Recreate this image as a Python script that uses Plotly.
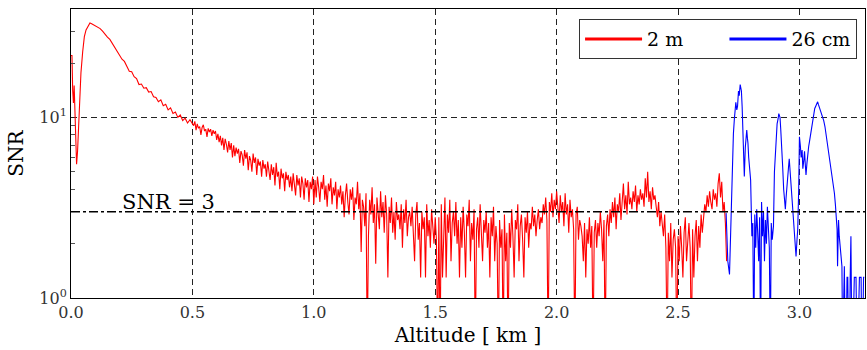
import numpy as np
import plotly.graph_objects as go

# ---------------- data ----------------
red_alt_early = [0.000, 0.004, 0.007, 0.010, 0.013, 0.016, 0.019, 0.023, 0.027, 0.032,
                 0.037, 0.041, 0.048, 0.055, 0.062, 0.069, 0.078, 0.085, 0.092, 0.100]
red_snr_early = [22, 22, 14, 12, 15, 11, 7, 5.5, 6.5, 10,
                 14, 17.7, 23, 28, 30.5, 32, 33.3, 33, 32.6, 32.3]

# 0.11 .. 0.50 km, 0.01 km step
red_snr_mid = [31.8, 31.0, 30.0, 28.8, 27.8, 27.0, 25.6, 24.6, 23.0, 22.2,
               21.0, 20.4, 19.3, 18.0, 17.9, 16.8, 16.4, 15.2, 15.3, 14.5,
               14.6, 13.8, 13.9, 13.0, 12.9, 12.2, 12.5, 11.6, 11.8, 11.0,
               11.3, 10.5, 10.7, 10.0, 10.3, 9.6, 9.9, 9.3, 9.7, 9.2]

# 0.505 .. 2.700 km, 0.005 km step
red_snr_fine = [
    9.0, 9.5, 8.5, 9.2, 8.7, 8.9, 8.0, 8.8, 9.1, 8.4, 8.6, 7.8, 8.7, 8.3, 8.6, 7.9, 8.5, 8.1, 8.4, 7.5,
    8.1, 7.3, 7.9, 7.0, 7.7, 6.6, 7.6, 7.1, 6.4, 7.4, 6.6, 7.2, 6.0, 7.0, 6.1, 6.8, 6.3, 6.7, 5.6, 6.5,
    6.2, 5.4, 6.6, 5.9, 6.4, 5.1, 6.1, 5.8, 5.0, 6.3, 5.6, 6.0, 4.8, 5.9, 5.4, 5.7, 4.7, 5.8, 5.2, 5.5,
    4.7, 5.7, 5.1, 4.5, 5.5, 4.8, 5.3, 4.2, 5.6, 4.7, 5.0, 4.0, 5.2, 4.6, 4.9, 3.9, 5.0, 4.5, 4.8, 4.1,
    4.7, 3.9, 4.9, 4.4, 3.7, 4.8, 4.2, 4.6, 3.6, 4.7, 4.3, 3.5, 4.6, 4.1, 4.5, 3.4, 4.4, 4.0, 4.7, 3.3,
    4.5, 3.6, 4.7, 4.1, 3.4, 4.4, 4.0, 4.8, 3.5, 4.2, 3.2, 4.3, 3.9, 4.6, 3.3, 4.1, 3.7, 4.4, 3.1, 4.0,
    3.6, 4.2, 3.3, 3.9, 2.8, 3.7, 4.3, 3.4, 2.9, 4.0, 3.5, 4.1, 2.7, 3.6, 3.3, 4.4, 3.1, 3.8, 1.8, 3.5,
    3.2, 2.5, 3.8, 0.5, 2.2, 3.5, 2.9, 4.1, 2.6, 3.3, 1.55, 3.6, 3.0, 2.4, 3.9, 2.8, 3.4, 2.3, 3.7, 2.9,
    1.3, 3.2, 2.6, 3.6, 2.3, 3.0, 2.1, 3.4, 2.7, 2.9, 2.4, 3.3, 1.9, 3.1, 2.6, 3.5, 2.2, 2.8, 3.0, 2.5,
    3.2, 2.3, 1.6, 2.9, 3.4, 2.1, 2.6, 1.3, 3.0, 2.4, 2.8, 1.3, 3.3, 2.2, 2.7, 1.9, 3.1, 2.5, 2.0, 2.8,
    2.1, 0.5, 2.8, 0.5, 3.3, 1.3, 2.5, 3.6, 1.3, 2.9, 2.3, 3.5, 1.6, 2.6, 3.0, 2.2, 3.4, 2.0, 2.7, 1.3,
    2.8, 1.9, 3.2, 2.3, 1.3, 2.9, 2.5, 3.5, 1.6, 2.6, 2.1, 3.1, 0.5, 2.4, 2.8, 1.9, 3.3, 2.2, 1.6, 2.7,
    2.3, 3.0, 1.9, 2.6, 1.3, 2.8, 2.2, 3.2, 1.6, 2.5, 2.0, 0.5, 2.7, 1.9, 2.4, 0.5, 2.9, 1.6, 2.3, 0.5,
    2.6, 1.9, 3.1, 2.2, 1.3, 2.7, 2.4, 3.3, 1.6, 2.5, 2.9, 2.1, 1.3, 2.8, 2.3, 3.0, 1.9, 2.6, 2.4, 3.2,
    2.5, 2.9, 2.2, 2.7, 3.1, 2.4, 2.8, 2.6, 3.3, 2.9, 3.6, 2.7, 0.5, 3.4, 3.0, 3.8, 2.8, 3.5, 3.1, 3.9,
    3.3, 2.6, 3.7, 3.0, 3.4, 2.5, 3.8, 2.9, 3.3, 2.3, 3.5, 2.8, 3.1, 2.4, 0.5, 2.9, 3.2, 2.1, 2.7, 2.5,
    2.2, 1.6, 2.6, 1.3, 2.4, 2.0, 2.8, 1.9, 2.5, 0.5, 2.3, 2.7, 1.9, 2.6, 2.2, 3.0, 2.4, 1.6, 2.7, 0.5,
    2.5, 2.9, 2.2, 3.1, 2.6, 3.4, 2.8, 3.6, 2.4, 3.3, 3.0, 3.8, 2.7, 3.5, 4.3, 3.1, 3.7, 2.9, 4.4, 3.3,
    3.6, 3.1, 3.9, 3.4, 4.2, 3.0, 3.7, 3.3, 4.0, 3.5, 3.8, 3.2, 4.6, 3.6, 5.0, 3.4, 3.9, 3.1, 4.1, 3.5,
    3.7, 3.2, 2.8, 3.4, 2.5, 3.0, 2.6, 2.2, 2.9, 1.9, 0.5, 2.3, 1.6, 2.6, 1.3, 2.1, 2.4, 1.9, 0.5, 2.2,
    1.6, 2.5, 1.9, 1.3, 2.3, 2.8, 1.6, 2.1, 2.6, 1.9, 0.5, 2.4, 1.3, 2.2, 2.7, 1.6, 2.5, 1.9, 2.9, 2.3,
    2.8, 3.3, 3.0, 3.7, 3.2, 3.9, 3.4, 3.1, 4.0, 3.5, 3.8, 3.2, 4.3, 4.9, 3.6, 4.4, 3.0, 3.4, 2.6, 1.6,
]

blue_alt = [2.698, 2.705, 2.712, 2.719, 2.723, 2.728, 2.732, 2.736, 2.738, 2.742, 2.745, 2.749,
            2.752, 2.756, 2.759, 2.761, 2.764, 2.766, 2.770, 2.773, 2.777, 2.780, 2.783, 2.786,
            2.788, 2.791, 2.794, 2.799, 2.804, 2.808, 2.812, 2.816, 2.820, 2.824, 2.828, 2.832,
            2.836, 2.840, 2.844, 2.848, 2.852, 2.856, 2.860, 2.864, 2.868, 2.872, 2.876, 2.880,
            2.884, 2.888, 2.893, 2.897, 2.901, 2.904, 2.908, 2.912, 2.915, 2.918, 2.920, 2.923,
            2.926, 2.929, 2.931, 2.935, 2.938, 2.942, 2.945, 2.949, 2.952, 2.955, 2.958, 2.962,
            2.965, 2.969, 2.972, 2.976, 2.979, 2.983, 2.986, 2.990, 2.993, 2.997, 3.000, 3.004,
            3.007, 3.011, 3.014, 3.018, 3.021, 3.024, 3.027, 3.031, 3.034, 3.038, 3.041, 3.045,
            3.048, 3.052, 3.055, 3.059, 3.063, 3.068, 3.072, 3.075, 3.078, 3.082, 3.086, 3.089,
            3.093, 3.096, 3.100, 3.105, 3.110, 3.115, 3.119, 3.123, 3.127, 3.132, 3.137, 3.141,
            3.144, 3.148, 3.151, 3.155, 3.157, 3.161, 3.164, 3.168, 3.171, 3.175, 3.178, 3.182,
            3.185, 3.189, 3.192, 3.196, 3.199, 3.203, 3.206, 3.209, 3.212, 3.216, 3.219, 3.226,
            3.233, 3.237, 3.240, 3.247, 3.254, 3.257, 3.260, 3.264, 3.267]
blue_snr = [2.95, 1.6, 1.35, 2.9, 5.6, 8.1, 9.8, 11.4, 12.1, 11.0, 11.5, 14.0,
            13.2, 15.2, 14.3, 14.0, 11.5, 9.3, 6.5, 4.7, 6.8, 7.9, 8.5, 7.6,
            7.2, 6.0, 5.1, 4.5, 2.2, 2.6, 0.5, 2.9, 1.9, 3.1, 2.3, 1.6,
            2.8, 0.5, 3.4, 2.2, 3.0, 1.6, 2.7, 2.0, 3.2, 2.4, 1.9, 0.5,
            2.6, 2.1, 2.5, 5.0, 6.5, 8.0, 9.2, 9.8, 10.5, 10.2, 10.0, 8.6,
            7.5, 6.2, 5.3, 4.0, 3.5, 3.1, 3.6, 4.4, 5.0, 5.3, 5.9, 5.0,
            4.2, 3.4, 3.0, 2.5, 2.2, 1.9, 1.7, 2.1, 2.4, 4.0, 7.8, 6.9,
            6.0, 6.6, 5.2, 5.8, 6.5, 5.5, 4.8, 5.6, 6.3, 6.9, 7.3, 7.9,
            8.5, 9.4, 9.9, 10.8, 11.2, 11.6, 11.9, 12.2, 11.8, 11.4, 11.0, 10.8,
            10.3, 10.0, 9.6, 8.9, 8.0, 7.5, 6.8, 6.3, 5.7, 5.1, 4.6, 4.2,
            3.8, 3.3, 3.0, 2.4, 1.5, 2.7, 2.2, 1.9, 1.7, 1.5, 0.5, 1.5,
            1.5, 0.5, 0.5, 1.3, 1.3, 0.5, 0.5, 1.3, 2.2, 0.5, 0.5, 1.3,
            1.3, 0.5, 0.5, 1.3, 1.3, 0.5, 0.5, 1.3, 1.3]

x_ticks = [0.0, 0.5, 1.0, 1.5, 2.0, 2.5, 3.0]
y_ticks = [1, 10]
y_ticktext = ["10<sup>0</sup>", "10<sup>1</sup>"]
y_minor = [2, 3, 4, 5, 6, 7, 8, 9, 20, 30]
snr_threshold = 3
series_names = ["2 m", "26 cm"]

# ---------------- build ----------------
red_alt_mid = [round(0.11 + 0.01 * i, 3) for i in range(len(red_snr_mid))]
red_alt_fine = [round(0.505 + 0.005 * i, 3) for i in range(len(red_snr_fine))]
red_alt = red_alt_early + red_alt_mid + red_alt_fine
red_snr = red_snr_early + red_snr_mid + red_snr_fine

FONT = "DejaVu Serif"
NBSP = "\u00a0"

fig = go.Figure()
fig.add_trace(go.Scatter(x=red_alt, y=red_snr, mode="lines",
                         line=dict(color="#ff0000", width=1.1), showlegend=False))
fig.add_trace(go.Scatter(x=blue_alt, y=blue_snr, mode="lines",
                         line=dict(color="#0000ff", width=1.1), showlegend=False))
# legend entries (thicker lines as in the reference legend)
fig.add_trace(go.Scatter(x=[None], y=[None], mode="lines",
                         name=series_names[0] + NBSP * 6,
                         line=dict(color="#ff0000", width=3)))
fig.add_trace(go.Scatter(x=[None], y=[None], mode="lines", name=series_names[1],
                         line=dict(color="#0000ff", width=3)))

fig.add_hline(y=snr_threshold, line=dict(color="black", width=1.5, dash="dashdot"))
fig.add_annotation(x=0.40, y=np.log10(snr_threshold), xref="x", yref="y",
                   text="SNR = 3", showarrow=False, yanchor="bottom", yshift=-4,
                   font=dict(family=FONT, size=21, color="black"))

grid = dict(showgrid=True, gridcolor="#222222", gridwidth=1, griddash="6px,4px")
fig.update_xaxes(range=[0, 3.27], tickvals=x_ticks, tickformat=".1f",
                 showline=True, linecolor="black", linewidth=1, mirror=True,
                 ticks="", zeroline=False,
                 tickfont=dict(family=FONT, size=16, color="#333333"),
                 title=dict(text="Altitude [ km ]", standoff=6,
                            font=dict(family=FONT, size=20, color="black")),
                 **grid)
fig.update_yaxes(type="log", range=[0, 1.6], tickvals=y_ticks, ticktext=y_ticktext,
                 showline=True, linecolor="black", linewidth=1, mirror=True,
                 ticks="", zeroline=False,
                 minor=dict(tickvals=y_minor, ticks="inside", ticklen=4,
                            tickcolor="#555555", showgrid=False),
                 tickfont=dict(family=FONT, size=16, color="#333333"),
                 title=dict(text="SNR", standoff=10,
                            font=dict(family=FONT, size=20, color="black")),
                 **grid)

fig.update_layout(
    width=867, height=350,
    margin=dict(l=71, r=2, t=9, b=52),
    plot_bgcolor="white", paper_bgcolor="white",
    font=dict(family=FONT, color="black"),
    legend=dict(orientation="h", x=0.99, y=0.965, xanchor="right", yanchor="top",
                bordercolor="#333333", borderwidth=1, bgcolor="white",
                font=dict(family=FONT, size=19, color="black"),
                itemwidth=57),
)

fig.write_html("out.html")
